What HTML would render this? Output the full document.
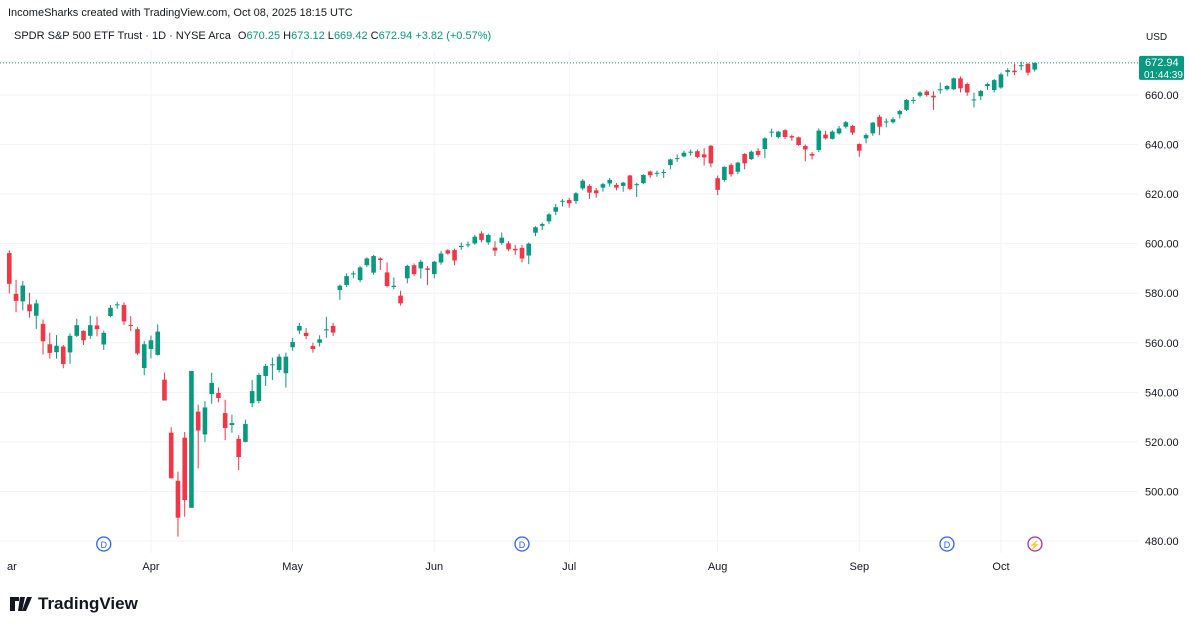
<!DOCTYPE html>
<html><head><meta charset="utf-8"><style>
html,body{margin:0;padding:0;background:#fff;}
svg{display:block;font-family:"Liberation Sans",sans-serif;}
</style></head><body>
<svg id="chart" width="1199" height="627" viewBox="0 0 1199 627">
<rect width="1199" height="627" fill="#fff"/>
<text x="8" y="16" font-size="11" fill="#131722">IncomeSharks created with TradingView.com, Oct 08, 2025 18:15 UTC</text>
<text x="14" y="39" font-size="11" fill="#131722">SPDR S&amp;P 500 ETF Trust · 1D · NYSE Arca <tspan dx="4">O</tspan><tspan fill="#089981">670.25</tspan> H<tspan fill="#089981">673.12</tspan> L<tspan fill="#089981">669.42</tspan> C<tspan fill="#089981">672.94</tspan> <tspan fill="#089981">+3.82 (+0.57%)</tspan></text>
<text x="1146" y="40" font-size="10" fill="#131722">USD</text>
<g id="grid"></g>
<g id="candles"></g>
<g id="axis"></g>
<g id="taxis"></g>
<g>
<path d="M10 597h9v4h-4v10h-5z M20 597h5l-3 14h-4z M27 597h5l-6 14h-4z" fill="#131722"/>
<text x="38" y="609" font-size="17" font-weight="bold" fill="#131722">TradingView</text>
</g>
</svg>
<script>
const O=[596.2,579.7,576.7,575.5,570.9,567.6,559.4,556.2,558.5,556.1,562.8,564.8,562.8,567.0,559.3,570.8,575.3,575.2,567.2,565.5,549.8,
557.5,555.1,545.1,523.7,504.3,521.7,493.4,532.2,523.0,539.3,539.7,531.6,526.8,521.2,520.0,535.6,536.5,546.6,551.0,549,547.7,
558.2,564.9,564,558.7,560,565.2,566.8,581.3,583.3,587.8,585.3,591.3,588.3,594,588.4,582.5,579,586,591.3,590,590,
587.7,592.4,597.3,597.4,598.6,599.5,600.1,604.1,600.5,598.4,600.3,600.1,597.9,598.3,595.2,604.4,607.2,609,612.9,617,
617.6,617.2,622.3,623.3,621.5,622.6,624.3,623.7,623.3,627.5,623.7,624.4,629.1,628.3,628.8,631.7,634.3,635.2,637,637.3,636,639.5,
626.4,625.7,631.7,629,636.2,634.1,637.4,638.2,645,643,645.8,643.4,642.9,639.4,636.2,637.8,644,642.3,644.5,647.2,647.5,
640.2,642.5,644.5,651.2,649,649,652.2,654,657.8,659.7,661.4,659.7,662.2,662.3,662.3,666.7,664.4,658,659.5,663.6,662,
663,669.3,669.8,671.8,672.5,670.25];
const C=[583.8,576.9,583.1,572.7,575.9,560.6,555.9,558.8,551.4,562.8,567.1,561.0,567.1,565.5,563.98,574.1,575.5,568.6,567.1,555.7,559.4,
561.0,564.5,536.7,505.3,489.4,496.5,548.6,524.6,533.9,543.8,537.7,525.6,527.6,513.9,527.2,540.5,547,550.6,551.3,554.4,554.4,
560.3,566.8,562.7,557.5,561.4,565.4,564.1,583,586.9,588,590.4,594,595,593.4,582.9,583,575.9,591,587.7,592.7,589.4,
592.7,596,596,593.2,599.1,599.7,602.8,601.5,603.5,597.2,602.4,597.7,597.3,594,600,606.6,607.9,611.8,614.7,617.3,
616.3,620.3,625.4,620.6,620.3,624,625.7,622.6,624.6,622.1,624,627.7,627.6,628.6,628.9,634,634.5,636.7,637.1,635,634.8,632.4,
621.7,631,628,632.7,632.4,637.1,635.8,642.5,645.2,645.2,643,642.8,639.8,638,635.5,645.6,642.5,645.2,646.5,649,644.8,
637.5,643.8,648.8,647.2,649.3,650.2,653.5,658,658,661,660,659,662.3,663.6,666.7,662.7,661,658.2,661.6,664.4,666,
668.3,670,669.2,672,669,672.94];
const H=[597.3,585.4,584.9,580.2,577.4,569.4,564.0,563.1,559.1,563.8,569.7,565.0,570.9,570.6,564.9,575.2,576.4,576.3,570.7,566.3,560.7,
562.9,567.4,547.97,525.9,508,524.0,548.6,535,536.4,547.9,542,537.0,531,522.7,529,545,547.8,551.5,554,555.5,556,
562,568,566,560,563,570.5,568,583.5,588,588.9,591,594.5,595.5,594.5,592.4,586.4,581,591.5,592,593.5,591,
593,597,597.8,598,600.5,600.9,603.5,605,604,601,604.5,601,599.5,599.5,600.5,607,608.5,612.3,616,618,
618.5,620.8,626,624,622.5,624.5,626.5,624.5,625,627.8,624.6,628,629.5,629.4,630,634.3,636,637.5,638,638,638.5,639.8,
627.5,631.2,632.5,633,636.5,637.6,638.5,642.9,646.4,645.5,646.2,644,643.2,640,637,646.5,645.5,645.8,647.5,649.5,648,
640.5,644.5,649.1,652,650.5,651,654,658.3,659.2,661.5,662,661.5,665,664,667,667.5,665,661,662,665,666.4,
669,670.8,672.6,673.5,673,673.12];
const L=[579.9,572.3,573.1,570.1,565.6,555.2,553.6,553.6,549.7,551.5,562.3,559.1,561.6,562.6,557.1,570.3,573.7,567.2,564.7,555.1,546.9,
553.7,554.8,536.7,505.3,481.8,489.8,493.4,509.3,520.0,535.4,536,520.7,523.7,508.6,519.8,534,535.5,542.6,545,548,541.9,
556.7,563.5,561.5,556,558.5,562,562.7,577.3,582.5,586,584.5,590.5,587.5,589.4,582.3,581.5,575,584,587,585.9,583.3,
586,591.5,595.5,591.3,597.5,598.5,599.5,600.5,599.5,595,599.5,597,595.5,592.4,591.7,603,605.5,608,611.5,615,
614.5,616,621.5,618,618.5,621,623,621.5,621,621.5,618.8,624,626.5,627,626.5,630,633,634.8,635.5,634.5,631.5,630.8,
619.6,625,627,628,630,633.8,635,634.5,643,642.5,642.3,641.5,639.5,633.2,634,637,642,642,644,646.5,643.8,
635,640.5,643.5,643.8,647,648.5,650.5,653.5,656.5,659,659.3,654,660.5,661.7,662,661,659.7,655,658,662,661,
662.5,667.5,668,670,667.9,669.42];
const priceTicks=[480,500,520,540,560,580,600,620,640,660];
const monthLabels=["ar","Apr","May","Jun","Jul","Aug","Sep","Oct"];
const monthIndex=[-1,21,42,63,83,105,126,147];
const divIndex=[14,76,139];
const lastPrice=672.94;

const NS="http://www.w3.org/2000/svg";
const yOf=p=>541-(p-480)*2.478;
const xOf=i=>9.3+i*6.746;
function mk(tag,attrs,parent){const e=document.createElementNS(NS,tag);for(const k in attrs)e.setAttribute(k,attrs[k]);parent.appendChild(e);return e;}
const grid=document.getElementById('grid'),cg=document.getElementById('candles'),ax=document.getElementById('axis'),tx=document.getElementById('taxis');
priceTicks.forEach(p=>{
  const l=mk('line',{x1:0,x2:1138,y1:yOf(p),y2:yOf(p),stroke:'#f0f3fa','stroke-width':1},grid);
  
  
  const t=mk('text',{x:1145,y:yOf(p)+4,'font-size':11,fill:'#131722'},ax);
  t.textContent=p.toFixed(2);
  
  
});
monthLabels.forEach((m,k)=>{
  const x=xOf(monthIndex[k]);
  if(k>0){const l=mk('line',{x1:x,x2:x,y1:50,y2:553,stroke:'#f0f3fa','stroke-width':1},grid);
  
  }
  const t=mk('text',{x:k===0?7:x,y:570,'font-size':11,fill:'#131722','text-anchor':k===0?'start':'middle'},tx);
  t.textContent=m;
  
  
});
for(let i=0;i<O.length;i++){
  const up=C[i]>=O[i],col=up?'#089981':'#f23645',x=xOf(i);
  const w=mk('line',{x1:x,x2:x,y1:yOf(H[i]),y2:yOf(L[i]),stroke:col,'stroke-width':1},cg);
  
  
  const top=yOf(Math.max(O[i],C[i])),bot=yOf(Math.min(O[i],C[i]));
  const b=mk('rect',{x:x-2.3,y:top,width:4.6,height:Math.max(1,bot-top),fill:col},cg);
  
  
}
const yl=yOf(lastPrice);
const dl=mk('line',{x1:0,x2:1138,y1:yl,y2:yl,stroke:'#089981','stroke-width':1,'stroke-dasharray':'1 2'},grid);


const bx=mk('rect',{x:1139,y:yl-7,width:45,height:24,rx:2,fill:'#089981'},ax);


const t1=mk('text',{x:1145,y:yl+3,'font-size':11,fill:'#fff'},ax);t1.textContent=lastPrice.toFixed(2);


const t2=mk('text',{x:1144,y:yl+15,'font-size':10,fill:'#fff'},ax);t2.textContent='01:44:39';


divIndex.forEach(i=>{
  const x=xOf(i);
  const c=mk('circle',{cx:x,cy:544,r:7,fill:'#fff',stroke:'#2962ff','stroke-width':1.3},cg);
  
  
  const t=mk('text',{x:x,y:548,'font-size':9,'text-anchor':'middle',fill:'#2962ff'},cg);t.textContent='D';
  
  
});
const ec=mk('circle',{cx:1035,cy:544,r:7,fill:'#fff',stroke:'#b03090','stroke-width':1.3},cg);


const et=mk('text',{x:1035,y:548,'font-size':9,'text-anchor':'middle',fill:'#b03090'},cg);et.textContent='⚡';


</script>
</body></html>
